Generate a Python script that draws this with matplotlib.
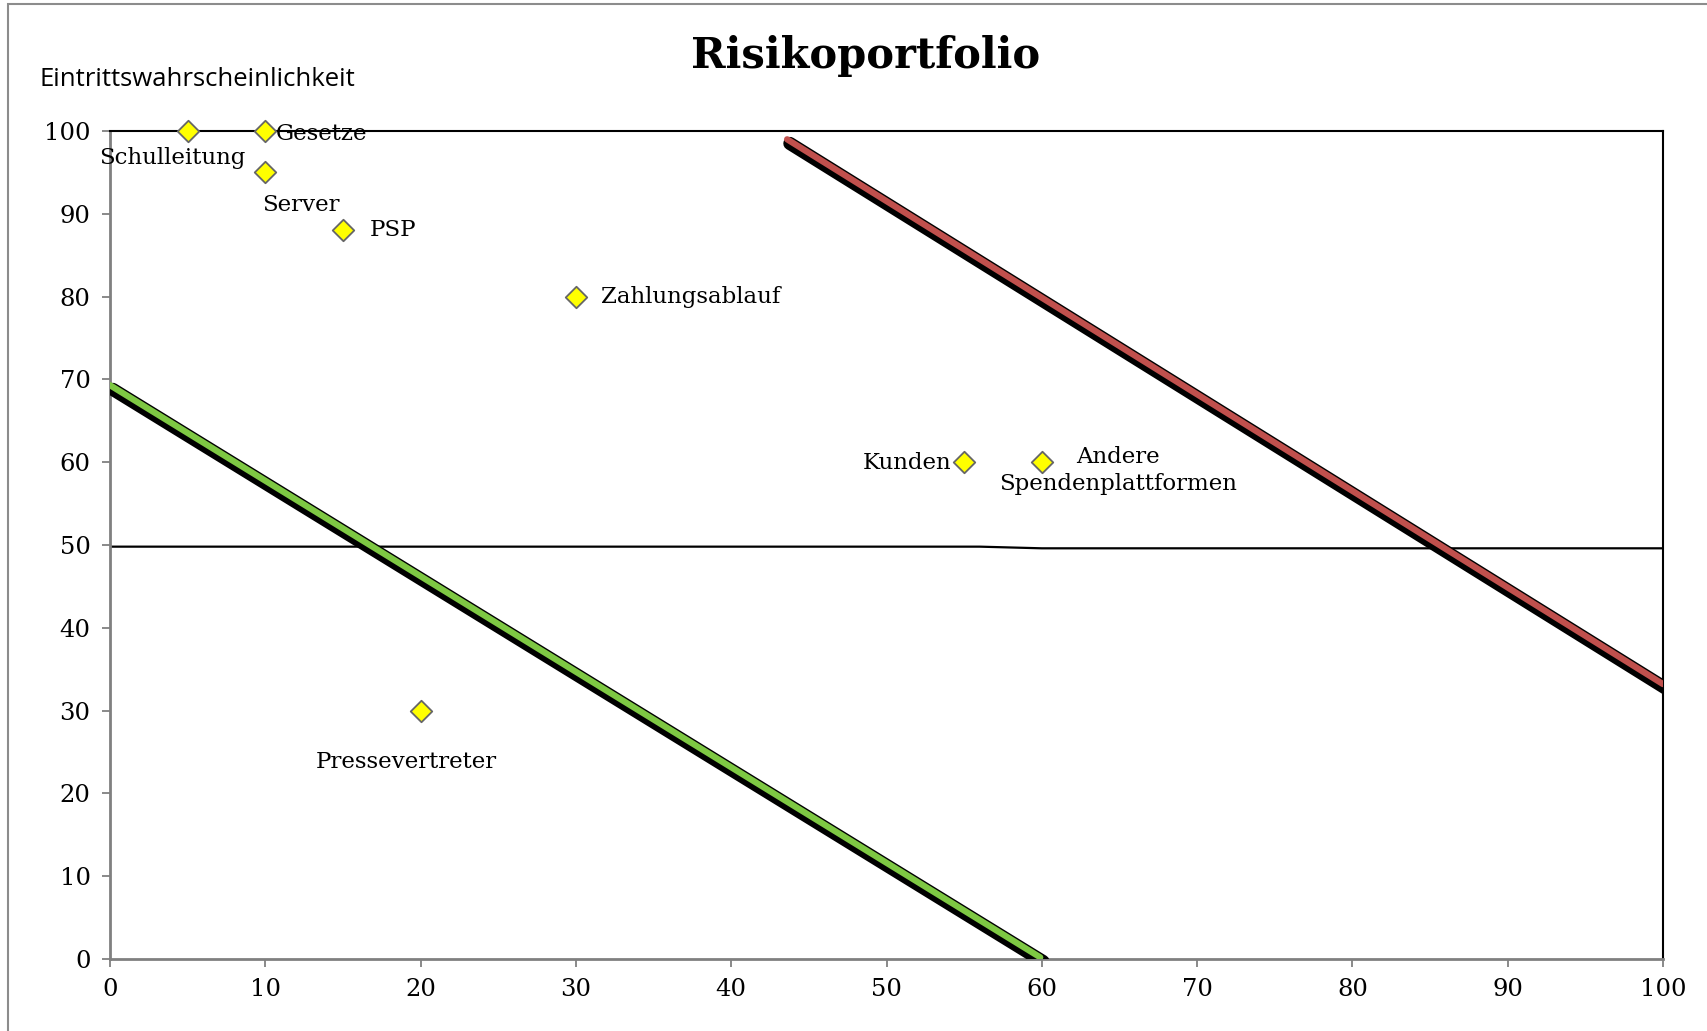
import matplotlib.pyplot as plt
import matplotlib.patheffects as pe
from matplotlib.patches import Rectangle

# risk points: (impact, probability)
names = ["Schulleitung", "Gesetze", "Server", "PSP", "Zahlungsablauf",
         "Kunden", "Andere\nSpendenplattformen", "Pressevertreter"]
impact = [5, 10, 10, 15, 30, 55, 60, 20]
probability = [100, 100, 95, 88, 80, 60, 60, 30]

# label anchor positions (data coords) and alignment
label_x = [4.0, 10.7, 12.3, 16.7, 31.6, 54.2, 64.9, 19.1]
label_y = [96.7, 99.6, 91.1, 88.0, 80.0, 59.9, 59.0, 23.8]
label_ha = ["center", "left", "center", "left", "left", "right", "center", "center"]

# boundary lines
mid_x = [0, 56, 60, 100]
mid_y = [49.8, 49.8, 49.6, 49.6]
green_x = [0, 59.9]
green_y = [69.3, 0.2]
red_x = [43.6, 100]
red_y = [99.0, 33.2]

SERIF = "DejaVu Serif"

fig = plt.figure(figsize=(17.07, 10.31), dpi=100)
ax = fig.add_axes([110 / 1707, 1 - 959 / 1031, 1553 / 1707, 828 / 1031])

# outer chart frame
fig.patches.append(Rectangle((8 / 1707, -0.01), 1.02, 1 - 4 / 1031 + 0.01,
                             transform=fig.transFigure, fill=False,
                             edgecolor="#8c8c8c", linewidth=1.5))

ax.plot(mid_x, mid_y, color="black", linewidth=1.6, zorder=2)

shadow = [pe.SimpleLineShadow(offset=(2, -3), shadow_color="black",
                              alpha=1.0, linewidth=9.5),
          pe.Normal()]
ax.plot(green_x, green_y, color="#7ec843", linewidth=4.5, solid_capstyle="round",
        path_effects=shadow, zorder=3)
ax.plot(red_x, red_y, color="#c0504d", linewidth=4.5, solid_capstyle="round",
        path_effects=shadow, zorder=3)

ax.scatter(impact, probability, marker="D", s=120, facecolor="#ffff00",
           edgecolor="#666666", linewidth=1.3, zorder=5, clip_on=False)

for name, x, y, ha in zip(names, label_x, label_y, label_ha):
    ax.text(x, y, name, ha=ha, va="center", fontsize=16.5, family=SERIF,
            linespacing=1.3, zorder=6)

ax.set_xlim(0, 100)
ax.set_ylim(0, 100)
ax.set_xticks(range(0, 101, 10))
ax.set_yticks(range(0, 101, 10))
ax.tick_params(axis="both", direction="out", length=6, width=1.3,
               color="#808080", labelsize=17.5, pad=8)
for lbl in ax.get_xticklabels() + ax.get_yticklabels():
    lbl.set_family(SERIF)

ax.spines["left"].set_color("#808080")
ax.spines["bottom"].set_color("#808080")
ax.spines["left"].set_linewidth(2)
ax.spines["bottom"].set_linewidth(2)
ax.spines["top"].set_color("black")
ax.spines["right"].set_color("black")
ax.spines["top"].set_linewidth(1.5)
ax.spines["right"].set_linewidth(1.5)

fig.text(866 / 1707, 1 - 56 / 1031, "Risikoportfolio", ha="center", va="center",
         fontsize=30, fontweight="bold", family=SERIF)
fig.text(40 / 1707, 1 - 79 / 1031, "Eintrittswahrscheinlichkeit", ha="left",
         va="center", fontsize=18.5, family="Open Sans")

fig.savefig("out.png", dpi=100)
